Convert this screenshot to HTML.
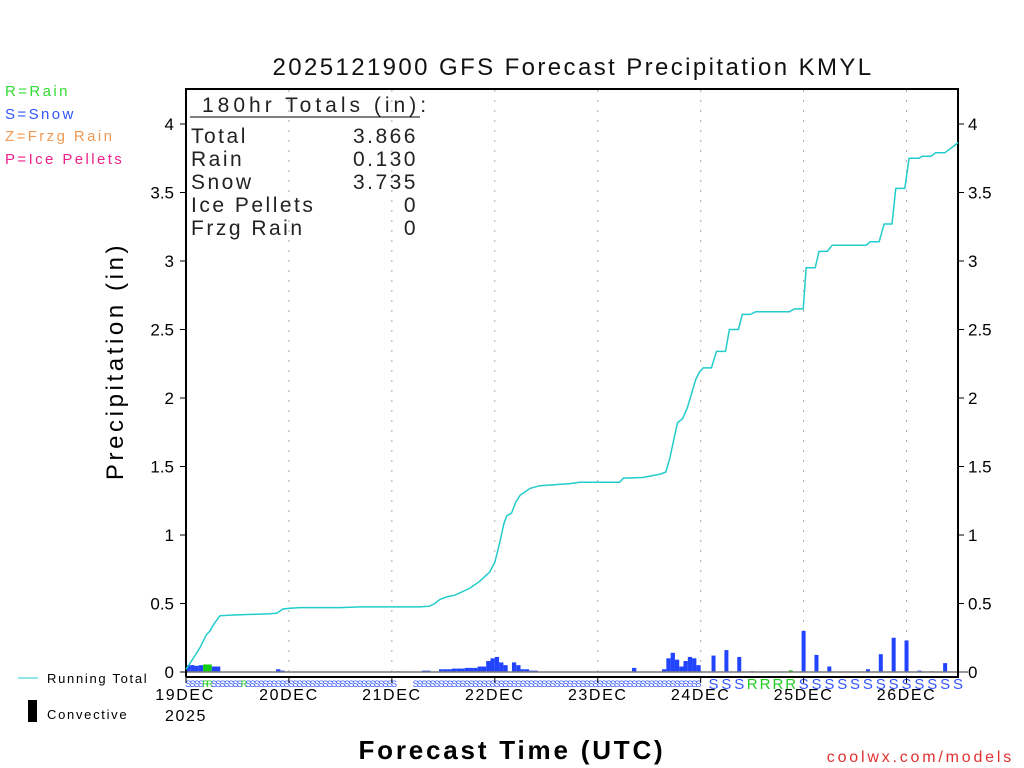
<!DOCTYPE html>
<html><head><meta charset="utf-8"><style>
body{margin:0;background:#fff}
svg{display:block;font-family:"Liberation Sans",sans-serif}
</style></head><body>
<svg id="chart" width="1024" height="768" viewBox="0 0 1024 768">
<rect width="1024" height="768" fill="#fff"/>
<text x="573" y="75" font-size="24" text-anchor="middle" fill="#111" letter-spacing="2.4">2025121900 GFS Forecast Precipitation KMYL</text>
<g font-size="15" letter-spacing="2.4">
<text x="5" y="96" fill="#33dd33">R=Rain</text>
<text x="5" y="119" fill="#3355ff">S=Snow</text>
<text x="5" y="141" fill="#ee9955">Z=Frzg Rain</text>
<text x="5" y="164" fill="#ee2288">P=Ice Pellets</text>
</g>
<text transform="translate(123,361) rotate(-90)" font-size="24" text-anchor="middle" letter-spacing="3.6">Precipitation (in)</text>
<text x="512" y="759" font-size="26" font-weight="bold" text-anchor="middle" letter-spacing="2.8">Forecast Time (UTC)</text>
<text x="1014" y="762" font-size="16" text-anchor="end" fill="#e03030" letter-spacing="2.8">coolwx.com/models</text>
<g>
<line x1="18" y1="678" x2="38" y2="678" stroke="#22cccc" stroke-width="1"/>
<text x="47" y="683" font-size="13" letter-spacing="1.7">Running Total</text>
<rect x="28" y="700" width="9" height="22" fill="#000"/>
<text x="47" y="719" font-size="13" letter-spacing="1.7">Convective</text>
</g>
<g id="grid"></g><g id="bars"></g><g id="types"></g><g id="axes"></g><g id="line"></g>
<g font-size="21" fill="#222" letter-spacing="2.5">
<text x="202" y="112" letter-spacing="4">180hr Totals (in):</text>
<line x1="190" y1="117" x2="420" y2="117" stroke="#000"/>
<text x="191" y="143">Total</text><text x="418" y="143" text-anchor="end">3.866</text>
<text x="191" y="166">Rain</text><text x="418" y="166" text-anchor="end">0.130</text>
<text x="191" y="189">Snow</text><text x="418" y="189" text-anchor="end">3.735</text>
<text x="191" y="212">Ice Pellets</text><text x="418" y="212" text-anchor="end">0</text>
<text x="191" y="235">Frzg Rain</text><text x="418" y="235" text-anchor="end">0</text>
</g>
</svg>
<script>
const dayLabels=["19DEC","20DEC","21DEC","22DEC","23DEC","24DEC","25DEC","26DEC"];
const yTicks=[0,0.5,1,1.5,2,2.5,3,3.5,4];
const yTickLabels=["0","0.5","1","1.5","2","2.5","3","3.5","4"];
// hourly bars: hour, value, type
const barHours=[1,2,3,4,5,6,7,8,22,23,50,56,57,60,61,62,63,64,65,66,67,68,69,70,71,72,73,74,75,77,78,79,80,81,82,105,112,113,114,115,116,117,118,119,120,123,126,129,132,135,141,144,147,150,159,162,165,168,171,174,177];
const barValues=[0.05,0.05,0.045,0.05,0.055,0.055,0.04,0.04,0.02,0.01,0.005,0.01,0.01,0.02,0.02,0.02,0.025,0.025,0.025,0.03,0.03,0.03,0.04,0.04,0.08,0.1,0.11,0.07,0.05,0.07,0.05,0.02,0.02,0.01,0.01,0.03,0.02,0.1,0.14,0.09,0.04,0.08,0.11,0.1,0.05,0.12,0.16,0.11,0.006,0.003,0.012,0.30,0.125,0.04,0.02,0.13,0.25,0.23,0.01,0.005,0.065];
const barTypes=["S","S","S","S","R","R","S","S","S","S","S","S","S","S","S","S","S","S","S","S","S","S","S","S","S","S","S","S","S","S","S","S","S","S","S","S","S","S","S","S","S","S","S","S","S","S","S","S","R","R","R","S","S","S","S","S","S","S","S","S","S"];
// running total line
const lineHours=[0,2.1,3.3,4.7,5.6,6.5,7.9,10.3,19.6,21.2,22.6,24.2,26.6,35.9,40.6,54.5,56.8,58,59.2,61,62.6,66.1,68.4,70.8,72,73.2,74.1,74.8,75.9,76.9,77.9,80.2,82.5,89.5,91.8,101.1,102,106.5,110.7,111.9,112.8,113.9,114.6,115.8,116.9,118.8,119.7,120.6,122.5,123.7,125.8,126.7,128.8,129.7,131.6,132.8,140.7,141.9,143.9,144.6,146.7,147.6,149.5,150.7,158.6,159.5,161.6,162.8,164.6,165.5,167.6,168.6,170.9,171.6,173.7,174.8,176.9,179.5,180];
const lineValues=[0.02,0.12,0.18,0.27,0.30,0.35,0.41,0.415,0.425,0.43,0.46,0.465,0.47,0.47,0.475,0.475,0.48,0.50,0.53,0.55,0.56,0.61,0.66,0.73,0.80,0.95,1.08,1.14,1.16,1.24,1.29,1.34,1.36,1.375,1.385,1.385,1.415,1.42,1.445,1.46,1.56,1.72,1.82,1.85,1.93,2.13,2.19,2.22,2.22,2.34,2.34,2.50,2.50,2.61,2.61,2.63,2.63,2.65,2.65,2.95,2.95,3.07,3.07,3.115,3.115,3.14,3.14,3.27,3.27,3.53,3.53,3.75,3.75,3.765,3.765,3.79,3.79,3.85,3.866];
const rainLetterHours=[5,6,14,132,135,138,141];

const NS="http://www.w3.org/2000/svg";
const X0=186,X1=958,Y0=672,PPI=137;
const xs=h=>X0+h*(X1-X0)/180;
const ys=v=>Y0-v*PPI;
function mk(tag,at,parent){const e=document.createElementNS(NS,tag);for(const k in at)e.setAttribute(k,at[k]);parent.appendChild(e);return e;}
const grid=document.getElementById('grid'),axes=document.getElementById('axes'),bars=document.getElementById('bars'),types=document.getElementById('types'),lineG=document.getElementById('line');
dayLabels.forEach((d,i)=>{
  const x=xs(i*24);
  if(i>0){const g=mk('line',{x1:x,y1:90,x2:x,y2:672,stroke:'#aaa','stroke-dasharray':'2,8'},grid);
  
  }
  const t=mk('text',{x:x+(i==0?-1:0),y:700,'font-size':16,'text-anchor':'middle','letter-spacing':1.6},axes);t.textContent=d;
  
  
  mk('line',{x1:x,y1:677,x2:x,y2:683,stroke:'#000'},axes);
});
const yr=mk('text',{x:165,y:721,'font-size':16,'letter-spacing':1.6},axes);yr.textContent="2025";


yTicks.forEach((v,i)=>{
  const y=ys(v);
  mk('line',{x1:X0-6,y1:y,x2:X0,y2:y,stroke:'#000'},axes);
  mk('line',{x1:X1,y1:y,x2:X1+6,y2:y,stroke:'#000'},axes);
  const t=mk('text',{x:174,y:y+6,'font-size':17,'text-anchor':'end'},axes);t.textContent=yTickLabels[i];
  
  
  const t2=mk('text',{x:968,y:y+6,'font-size':17},axes);t2.textContent=yTickLabels[i];
  
  
});
mk('line',{x1:X0,y1:Y0,x2:X1+10,y2:Y0,stroke:'#777','stroke-width':1.5},axes);
const fr=mk('path',{d:`M${X0},${677}V89H${X1}V677H${X0}`,fill:'none',stroke:'#000','stroke-width':2},axes);


barHours.forEach((h,i)=>{
  const w=h<=120?4.3:4;
  const x=h<=120?xs(h)-4.3:xs(h)-2;
  const r=mk('rect',{x:x,y:ys(barValues[i]),width:w,height:barValues[i]*PPI,fill:barTypes[i]=="R"?'#11cc11':'#2244ff'},bars);
  
  
});
for(let h=1;h<=180;h++){
  if(h>120&&h%3)continue;
  if(h>=50&&h<=53)continue;
  const isR=rainLetterHours.includes(h);
  const big=h>120;
  const t=mk('text',{x:big?xs(h):xs(h)-2,y:big?689:687,'font-size':big?15:9,'text-anchor':'middle',fill:isR?'#22cc22':'#3355ff'},types);
  t.textContent=isR?"R":"S";
  
  
}
const pts=lineHours.map((h,i)=>xs(h).toFixed(1)+","+ys(lineValues[i]).toFixed(1)).join(" ");
const pl=mk('polyline',{points:pts,fill:'none',stroke:'#22cccc','stroke-width':1.5},lineG);


</script>
</body></html>
